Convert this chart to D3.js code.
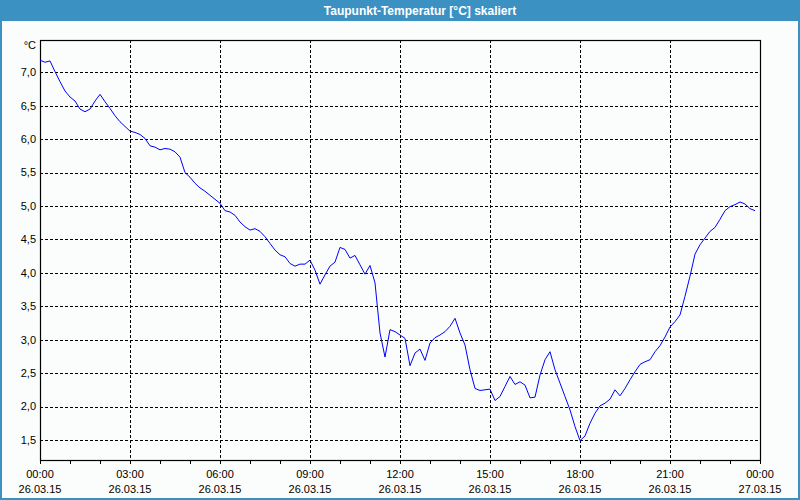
<!DOCTYPE html>
<html>
<head>
<meta charset="utf-8">
<script src="https://cdn.jsdelivr.net/npm/d3@7"></script>
<style>
  body { margin: 0; background: #ffffff; }
  svg { display: block; font-family: "Liberation Sans", Arial, sans-serif; }
</style>
</head>
<body>
<div id="chart"></div>
<script>
// Chart title and labels
var chartTitle = "Taupunkt-Temperatur [°C] skaliert";
var unitLabel = "°C";

// Dew point values, one every 10 minutes from 26.03.15 00:00
var dewPoint = [
  7.18, 7.15, 7.17, 7.01, 6.86, 6.72, 6.63, 6.57, 6.45, 6.41, 6.45, 6.57,
  6.67, 6.56, 6.46, 6.35, 6.26, 6.19, 6.12, 6.10, 6.07, 6.01, 5.90, 5.88,
  5.84, 5.86, 5.85, 5.81, 5.73, 5.50, 5.43, 5.34, 5.27, 5.22, 5.16, 5.10,
  5.04, 4.93, 4.91, 4.86, 4.76, 4.69, 4.64, 4.66, 4.62, 4.54, 4.44, 4.34,
  4.27, 4.24, 4.14, 4.10, 4.13, 4.13, 4.19, 4.04, 3.83, 3.97, 4.10, 4.16,
  4.38, 4.35, 4.22, 4.26, 4.12, 3.98, 4.11, 3.85, 3.10, 2.74, 3.15, 3.12,
  3.07, 3.02, 2.61, 2.80, 2.86, 2.69, 2.95, 3.03, 3.07, 3.12, 3.20, 3.32,
  3.10, 2.92, 2.55, 2.27, 2.24, 2.25, 2.26, 2.09, 2.15, 2.30, 2.45, 2.33,
  2.37, 2.32, 2.13, 2.14, 2.47, 2.70, 2.82, 2.55, 2.35, 2.15, 1.95, 1.70,
  1.49, 1.56, 1.75, 1.90, 2.01, 2.05, 2.11, 2.25, 2.16, 2.27, 2.40, 2.52,
  2.63, 2.67, 2.70, 2.82, 2.91, 3.04, 3.19, 3.27, 3.37, 3.65, 3.95, 4.28,
  4.42, 4.52, 4.62, 4.68, 4.80, 4.93, 4.99, 5.02, 5.06, 5.03, 4.96, 4.93
];

// Y tick values and their labels (German decimal comma)
var yTicks = [1.5, 2.0, 2.5, 3.0, 3.5, 4.0, 4.5, 5.0, 5.5, 6.0, 6.5, 7.0];
var yTickLabels = ["1,5", "2,0", "2,5", "3,0", "3,5", "4,0", "4,5", "5,0", "5,5", "6,0", "6,5", "7,0"];

// X tick hours and labels
var xTickHours = [0, 3, 6, 9, 12, 15, 18, 21, 24];
var xTickTimes = ["00:00", "03:00", "06:00", "09:00", "12:00", "15:00", "18:00", "21:00", "00:00"];
var xTickDates = ["26.03.15", "26.03.15", "26.03.15", "26.03.15", "26.03.15", "26.03.15", "26.03.15", "26.03.15", "27.03.15"];

var svgWidth = 800;
var svgHeight = 500;

// Plot frame
var margin = { top: 40, right: 40, bottom: 40, left: 40 };
var chartWidth = svgWidth - margin.left - margin.right;
var chartHeight = svgHeight - margin.top - margin.bottom;

var svg = d3.select("#chart")
  .append("svg")
  .attr("width", svgWidth)
  .attr("height", svgHeight);

// Window background and title bar
svg.append("rect")
  .attr("x", 0).attr("y", 0)
  .attr("width", svgWidth).attr("height", svgHeight)
  .attr("fill", "#3c91c3");

svg.append("rect")
  .attr("x", 2).attr("y", 21)
  .attr("width", svgWidth - 4).attr("height", svgHeight - 23)
  .attr("fill", "#fafdfb");

svg.append("text")
  .attr("x", 420)
  .attr("y", 15)
  .attr("text-anchor", "middle")
  .attr("fill", "#ffffff")
  .attr("font-weight", "bold")
  .attr("font-size", "12px")
  .text(chartTitle);

var chartGroup = svg.append("g")
  .attr("transform", `translate(${margin.left}, ${margin.top})`);

// Scales: hours on x, degrees on y
var xScale = d3.scaleLinear()
  .domain([0, 24])
  .range([0, chartWidth]);

var yScale = d3.scaleLinear()
  .domain([1.2, 7.483])
  .range([chartHeight, 0]);

// Horizontal dashed grid
chartGroup.selectAll(".hgrid")
  .data(yTicks)
  .enter()
  .append("line")
  .attr("x1", 0)
  .attr("x2", chartWidth)
  .attr("y1", d => Math.round(yScale(d)) + 0.5)
  .attr("y2", d => Math.round(yScale(d)) + 0.5)
  .attr("stroke", "#000")
  .attr("stroke-dasharray", "3,2");

// Vertical dashed grid
chartGroup.selectAll(".vgrid")
  .data(xTickHours.slice(1, -1))
  .enter()
  .append("line")
  .attr("x1", d => Math.round(xScale(d)) + 0.5)
  .attr("x2", d => Math.round(xScale(d)) + 0.5)
  .attr("y1", 0)
  .attr("y2", chartHeight)
  .attr("stroke", "#000")
  .attr("stroke-dasharray", "3,2");

// Y labels
chartGroup.selectAll(".ylabel")
  .data(yTicks)
  .enter()
  .append("text")
  .attr("x", -4)
  .attr("y", d => yScale(d))
  .attr("dy", "0.35em")
  .attr("text-anchor", "end")
  .attr("font-size", "11px")
  .attr("fill", "#000")
  .text((d, i) => yTickLabels[i]);

chartGroup.append("text")
  .attr("x", -4)
  .attr("y", 9)
  .attr("text-anchor", "end")
  .attr("font-size", "11px")
  .attr("fill", "#000")
  .text(unitLabel);

// Bottom axis with hourly ticks
var bottomAxis = d3.axisBottom(xScale)
  .ticks(24)
  .tickSize(4)
  .tickFormat("");

chartGroup.append("g")
  .attr("transform", "translate(0, " + chartHeight + ")")
  .call(bottomAxis)
  .call(g => g.select(".domain").remove());

// Two-line x labels
var xLabels = chartGroup.selectAll(".xlabel")
  .data(xTickHours)
  .enter()
  .append("text")
  .attr("x", d => xScale(d))
  .attr("y", chartHeight + 18)
  .attr("text-anchor", "middle")
  .attr("font-size", "11px")
  .attr("fill", "#000");

xLabels.append("tspan")
  .attr("x", d => xScale(d))
  .text((d, i) => xTickTimes[i]);

xLabels.append("tspan")
  .attr("x", d => xScale(d))
  .attr("dy", 15)
  .text((d, i) => xTickDates[i]);

// Plot frame
chartGroup.append("rect")
  .attr("x", 0.5).attr("y", 0.5)
  .attr("width", chartWidth).attr("height", chartHeight)
  .attr("fill", "none")
  .attr("stroke", "#000")
  .attr("stroke-width", 1.2);

// Dew point line
var line = d3.line()
  .x((d, i) => xScale(i / 6))
  .y(d => yScale(d));

chartGroup.append("path")
  .datum(dewPoint)
  .attr("d", line)
  .attr("fill", "none")
  .attr("stroke", "#0000ff")
  .attr("stroke-width", 1);
</script>
</body>
</html>
